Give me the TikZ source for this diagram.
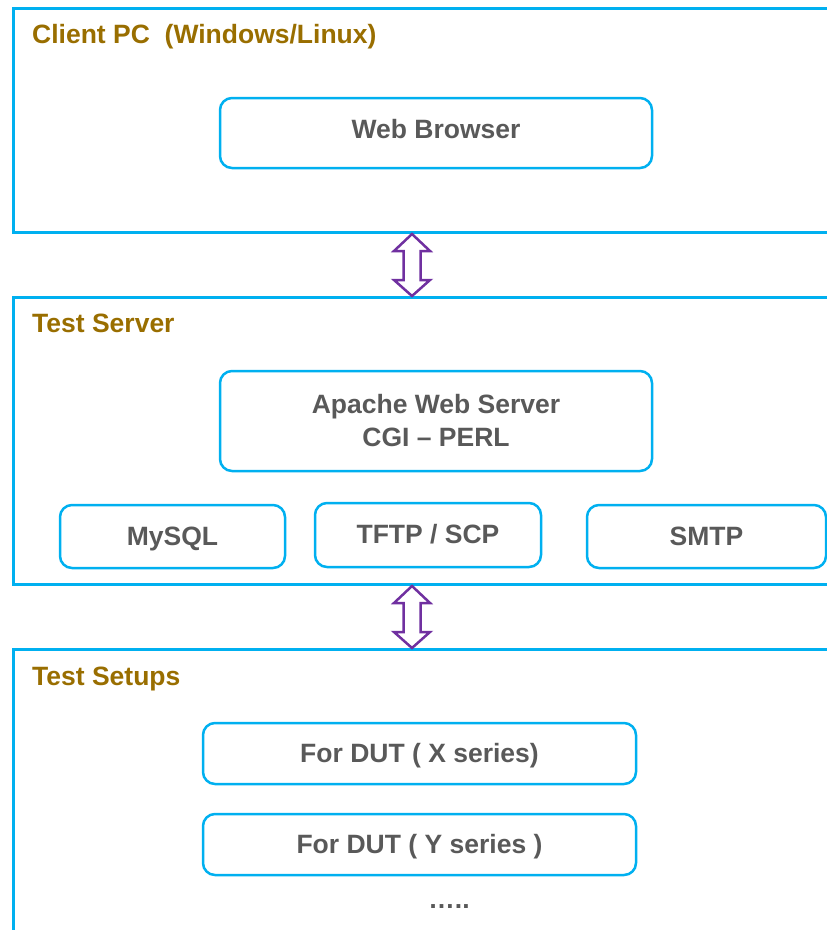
\documentclass[tikz,border=0pt]{standalone}
\usepackage{fontspec}
\setmainfont{Liberation Sans}
\usetikzlibrary{calc}
\definecolor{boxblue}{RGB}{0,176,240}
\definecolor{titlegold}{RGB}{153,110,0}
\definecolor{labelgray}{RGB}{89,89,89}
\definecolor{arrowpurple}{RGB}{112,48,160}
\def\dualarrow[#1](#2)(#3)%Syntax: [draw options](upper tip)(lower tip)
{ \draw[#1] (#2) -- ++(18,17) -- ++(-9.5,0) -- ($(#3)+(8.5,-16)$) -- ++(9.5,0) -- (#3) -- ++(-18,-16) -- ++(9.5,0) -- ($(#2)+(-8.5,17)$) -- ++(-9.5,0) -- cycle; }

\begin{document}
\begin{tikzpicture}[x=1pt,y=-1pt,
	outerbox/.style={draw=boxblue,line width=3pt,anchor=north west,inner sep=0pt},
	innerbox/.style={draw=boxblue,line width=2.5pt,rounded corners=12pt,align=center,text=labelgray,font=\bfseries\fontsize{26.5}{33}\selectfont,inner sep=0pt},
	oneline/.style={innerbox,text height=19pt,text depth=2pt},
	boxtitle/.style={anchor=base west,inner sep=0pt,text=titlegold,font=\bfseries\fontsize{26.5}{33}\selectfont}]
	\useasboundingbox (0,0) rectangle (827,930);
	\clip (0,0) rectangle (827,930);

	%outer frames
	\node[outerbox,minimum width=840,minimum height=224] (client) at (12,7) {};
	\node[outerbox,minimum width=840,minimum height=287] (server) at (12,296) {};
	\node[outerbox,minimum width=840,minimum height=320] (setups) at (12,648) {};

	%frame titles
	\node[boxtitle] (clienttitle) at (32,43)  {Client PC\ \ (Windows/Linux)};
	\node[boxtitle] (servertitle) at (32,332) {Test Server};
	\node[boxtitle] (setupstitle) at (32,685) {Test Setups};

	%client pc
	\node[oneline,minimum width=432,minimum height=70,text depth=9pt] (browser) at (436,133) {Web Browser};

	%test server
	\node[innerbox,minimum width=432,minimum height=100] (apache) at (436,421) {Apache Web Server\\CGI – PERL};
	\node[oneline,minimum width=225,minimum height=63] (mysql) at (172.5,536.5) {MySQL};
	\node[oneline,minimum width=226,minimum height=64] (tftp)  at (428,535)     {TFTP / SCP};
	\node[oneline,minimum width=239,minimum height=63] (smtp)  at (706.5,536.5) {SMTP};

	%test setups
	\node[oneline,minimum width=433,minimum height=61] (dutx) at (419.5,753.5) {For DUT ( X series)};
	\node[oneline,minimum width=433,minimum height=61] (duty) at (419.5,844.5) {For DUT ( Y series )};
	\node[anchor=base,inner sep=0pt,text=labelgray,font=\bfseries\fontsize{26.5}{33}\selectfont] (more) at (449,908) {…..};

	%links between frames
	\coordinate (clientport)  at ($(client.south west)+(400,0)$);
	\coordinate (serverinport)  at ($(server.north west)+(400,0)$);
	\coordinate (serveroutport) at ($(server.south west)+(400,0)$);
	\coordinate (setupsport)  at ($(setups.north west)+(400,0)$);
	\dualarrow[draw=arrowpurple,fill=white,line width=2.5pt](clientport)(serverinport)
	\dualarrow[draw=arrowpurple,fill=white,line width=2.5pt](serveroutport)(setupsport)
\end{tikzpicture}
\end{document}
